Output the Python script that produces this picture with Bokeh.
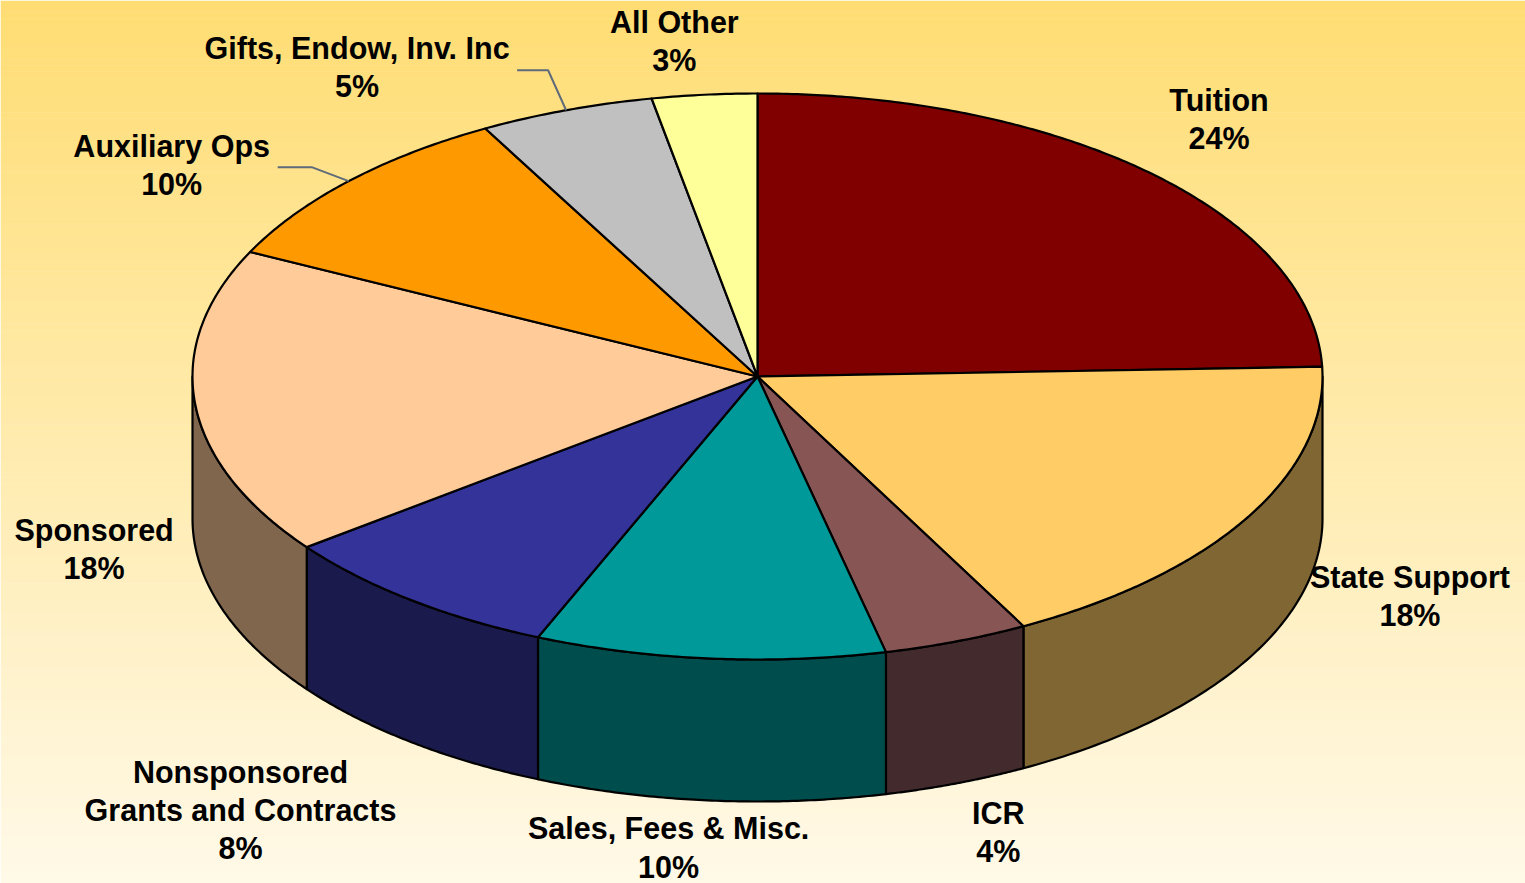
import numpy as np
from bokeh.plotting import figure
from bokeh.models import Range1d
from bokeh.core.properties import value
from bokeh.embed import file_html
from bokeh.resources import INLINE

# ---------------- data ----------------
categories = ["Tuition", "State Support", "ICR", "Sales, Fees & Misc.",
              "Nonsponsored\nGrants and Contracts", "Sponsored",
              "Auxiliary Ops", "Gifts, Endow, Inv. Inc", "All Other"]
shares = [24.45, 17.75, 4.15, 10.0, 8.35, 17.55, 9.75, 5.0, 3.0]
top_colors = ["#800000", "#FFCC66", "#885555", "#009999", "#333399",
              "#FFCC99", "#FF9900", "#C0C0C0", "#FFFF99"]
side_colors = ["#400000", "#806633", "#432A2D", "#004D4D", "#1A1A4D",
               "#80664D", "#804D00", "#606060", "#80804D"]

# ---------------- layout ----------------
W, H = 1525, 883
CX, CY = 757.0, 376.0       # pie centre (pixels)
RX, RY = 565.0, 283.0       # ellipse radii
DEPTH = 142.0               # thickness of the pie
START = 90.0                # first slice starts at 12 o'clock, clockwise

# label offsets (dx, dy) from the slice's rim point at its mid angle
label_offsets = [(69, -54), (163, 78), (42, 191), (-41, 189), (-170, 210),
                 (-101, 145), (-177, -16), (-209, -43), (-30, -54)]
# leader lines: (elbow offset, end offset) from the rim point
leaders = {6: ((-37, -14), (-71, -14)), 7: ((-18, -40), (-49, -40))}

p = figure(width=W, height=H, output_backend="svg", toolbar_location=None,
           x_range=Range1d(0, W), y_range=Range1d(H, 0),
           min_border=0, outline_line_color=None)
p.xaxis.visible = False
p.yaxis.visible = False
p.grid.visible = False

# background gradient
top_c = np.array([255, 221, 115])
bot_c = np.array([255, 249, 232])
n_strips = 150
edges = np.linspace(0, H, n_strips + 1)
cols = []
for i in range(n_strips):
    t = (edges[i] + edges[i + 1]) / 2 / H
    c = (top_c * (1 - t) + bot_c * t).round().astype(int)
    cols.append("#%02x%02x%02x" % tuple(c))
p.quad(left=0, right=W, top=edges[:-1], bottom=edges[1:] + 0.5,
       fill_color=cols, line_color=None)


def ex(a):
    return CX + RX * np.cos(np.radians(a))


def ey(a):
    return CY - RY * np.sin(np.radians(a))


total = sum(shares)
spans = [s / total * 360.0 for s in shares]
starts, ends = [], []
a = START
for sp in spans:
    starts.append(a)
    ends.append(a - sp)
    a -= sp

# side walls (visible front half: angles between -180 and 0)
side_xs, side_ys, side_fc = [], [], []
for i in range(len(shares)):
    a1, a2 = starts[i], ends[i]
    for shift in (0.0, -360.0, 360.0):
        hi = min(a1 + shift, 0.0)
        lo = max(a2 + shift, -180.0)
        if hi > lo:
            ang = np.linspace(hi, lo, 80)
            xs = list(ex(ang)) + list(ex(ang[::-1]))
            ys = list(ey(ang)) + list(ey(ang[::-1]) + DEPTH)
            side_xs.append(xs)
            side_ys.append(ys)
            side_fc.append(side_colors[i])
p.patches(side_xs, side_ys, fill_color=side_fc, line_color="black",
          line_width=2.2, line_join="round")

# top faces
top_xs, top_ys = [], []
for i in range(len(shares)):
    ang = np.linspace(starts[i], ends[i], max(int(spans[i] * 2), 8))
    top_xs.append([CX] + list(ex(ang)))
    top_ys.append([CY] + list(ey(ang)))
p.patches(top_xs, top_ys, fill_color=top_colors, line_color="black",
          line_width=2.2, line_join="round")

# labels
lx, ly, lt = [], [], []
for i, name in enumerate(categories):
    mid = (starts[i] + ends[i]) / 2
    rx_, ry_ = ex(mid), ey(mid)
    dx, dy = label_offsets[i]
    lx.append(rx_ + dx)
    ly.append(ry_ + dy)
    lt.append(f"{name}\n{round(shares[i] / total * 100)}%")
    if i in leaders:
        (e1x, e1y), (e2x, e2y) = leaders[i]
        p.line([rx_, rx_ + e1x, rx_ + e2x], [ry_, ry_ + e1y, ry_ + e2y],
               line_color="#5F6B7A", line_width=2)

p.text(x=lx, y=ly, text=lt, text_font=value("Liberation Sans"),
       text_font_style="bold", text_font_size="30.5px", text_color="black",
       text_align="center", text_baseline="middle", text_line_height=1.12)

open("out.html", "w").write(file_html(p, INLINE))
